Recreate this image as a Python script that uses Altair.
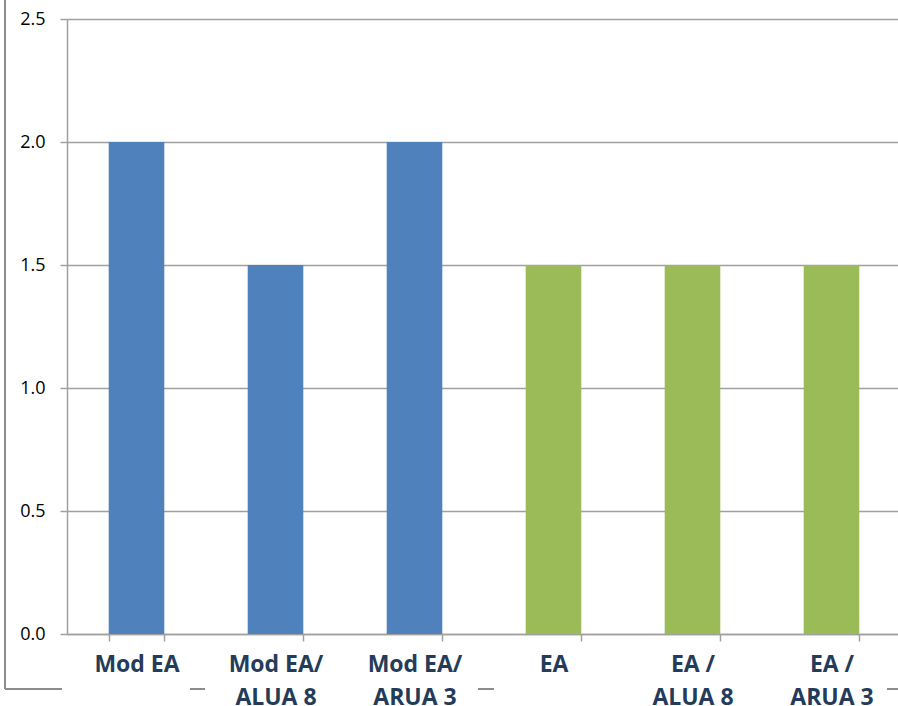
import altair as alt
import pandas as pd

categories = ["Mod EA", "Mod EA/|ALUA 8", "Mod EA/|ARUA 3", "EA", "EA /|ALUA 8", "EA /|ARUA 3"]
values = [2.0, 1.5, 2.0, 1.5, 1.5, 1.5]
groups = ["Mod", "Mod", "Mod", "Std", "Std", "Std"]
colors = ["#4F81BD", "#9BBB59"]
y_ticks = [0.0, 0.5, 1.0, 1.5, 2.0, 2.5]

df = pd.DataFrame({"cat": categories, "value": values, "group": groups})

bars = alt.Chart(df).mark_bar().encode(
    x=alt.X("cat:N", sort=categories, title=None,
            scale=alt.Scale(range=[0, 834], paddingInner=0.6, paddingOuter=0.3),
            axis=alt.Axis(labelAngle=0, labelExpr="split(datum.label, '|')",
                          labelFont="Open Sans", labelFontWeight="bold", labelFontSize=23,
                          labelColor="#243C5A", labelBaseline="top", labelLineHeight=33,
                          labelPadding=12, tickSize=7, tickBand="extent",
                          tickColor="#a0a0a0", tickWidth=1.5,
                          domainColor="#a0a0a0", domainWidth=1.5, grid=False,
                          labelOverlap=False)),
    y=alt.Y("value:Q", title=None,
            scale=alt.Scale(domain=[0, 2.5], nice=False),
            axis=alt.Axis(values=y_ticks, format=".1f", labelFont="Open Sans",
                          labelFontSize=18, labelColor="#000000", labelPadding=15,
                          tickSize=7, tickColor="#a0a0a0", tickWidth=1.5,
                          domainColor="#a0a0a0", domainWidth=1.5,
                          grid=True, gridColor="#a0a0a0", gridWidth=1.5)),
    color=alt.Color("group:N", scale=alt.Scale(domain=["Mod", "Std"], range=colors), legend=None),
)

border_color = "#8c8c8c"
border_left = alt.Chart(df).mark_rule(color=border_color, strokeWidth=1.5).encode(
    x=alt.value(-62), y=alt.value(-19), y2=alt.value(670))
segs = []
for a, b in [(-62, -5), (123, 138), (411, 427), (820, 831)]:
    segs.append(alt.Chart(df).mark_rule(color=border_color, strokeWidth=1.5).encode(
        x=alt.value(a), x2=alt.value(b), y=alt.value(670)))

chart = alt.layer(bars, border_left, *segs).properties(
    width=831, height=615,
    autosize=alt.AutoSizeParams(type="none"),
    padding={"left": 67, "top": 19, "right": 0, "bottom": 72},
).configure_view(stroke=None).configure(background="white")

chart.save("out.html", embed_options={"renderer": "svg", "actions": False})
